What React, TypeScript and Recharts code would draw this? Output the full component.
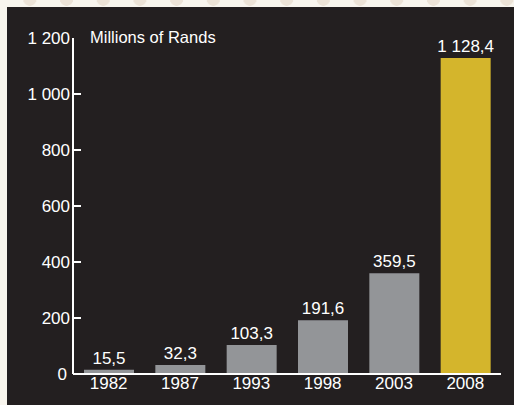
import { BarChart, Bar, XAxis, YAxis, Cell, LabelList } from "recharts";

const years = ["1982", "1987", "1993", "1998", "2003", "2008"];
const amounts = [15.5, 32.3, 103.3, 191.6, 359.5, 1128.4];
const yTicks = [0, 200, 400, 600, 800, 1000, 1200];

const data = years.map((year, i) => ({ year, amount: amounts[i] }));

const FONT = "'Liberation Sans', Arial, sans-serif";
const INK = "#231f20";
const GREY = "#939598";
const GOLD = "#d4b52c";

// "1 128,4" style: (non-breaking) space for thousands, comma for decimals
const fmt = (v: number, decimals: number) => {
  const [int, dec] = v.toFixed(decimals).split(".");
  const grouped = int.replace(/\B(?=(\d{3})+(?!\d))/g, "\u00a0");
  return dec ? `${grouped},${dec}` : grouped;
};

const YTick = ({ x, y, payload }: any) => {
  const v = payload.value;
  const showLine = v !== 0 && v !== 1200;
  return (
    <g>
      {showLine && <line x1={x + 3} x2={x + 11} y1={y} y2={y} stroke="#fff" strokeWidth={2} />}
      <text
        x={v === 0 ? x - 3 : x}
        y={y}
        dy="0.36em"
        textAnchor="end"
        fill="#fff"
        fontSize={17}
        fontFamily={FONT}
      >
        {fmt(v, 0)}
      </text>
    </g>
  );
};

export default function App() {
  return (
    <div
      style={{
        position: "absolute",
        left: 0,
        top: 0,
        width: 514,
        height: 405,
        background: "#f8f5ee",
        overflow: "hidden",
      }}
    >
      {/* scalloped strip along the top */}
      <div
        style={{
          position: "absolute",
          left: 0,
          top: 0,
          width: 514,
          height: 7,
          backgroundImage: "radial-gradient(circle at 50% 0px, #ece3d7 6.5px, transparent 7px)",
          backgroundSize: "36.7px 14px",
          backgroundPosition: "11.5px -1px",
        }}
      />
      <div
        style={{
          position: "absolute",
          left: 7,
          top: 7,
          right: 0,
          bottom: 0,
          background: INK,
        }}
      />
      <div style={{ position: "absolute", left: 0, top: 0 }}>
        <BarChart
          width={514}
          height={405}
          data={data}
          margin={{ top: 38, right: 13, bottom: 0, left: 13 }}
          barSize={50}
        >
          <YAxis
            domain={[0, 1200]}
            ticks={yTicks}
            interval={0}
            width={60}
            axisLine={{ stroke: "#fff", strokeWidth: 2 }}
            tickLine={false}
            tickSize={0}
            tickMargin={3}
            tick={<YTick />}
          />
          <XAxis
            dataKey="year"
            height={31}
            axisLine={{ stroke: "#fff", strokeWidth: 2 }}
            tickLine={false}
            tickSize={0}
            tickMargin={3}
            tick={{ fill: "#fff", fontSize: 17, fontFamily: FONT }}
          />
          <Bar dataKey="amount" isAnimationActive={false}>
            {data.map((d, i) => (
              <Cell key={d.year} fill={i === data.length - 1 ? GOLD : GREY} />
            ))}
            <LabelList
              dataKey="amount"
              position="top"
              offset={6}
              formatter={(v: any) => fmt(Number(v), 1)}
              style={{ fill: "#fff", fontSize: 17, fontFamily: FONT }}
            />
          </Bar>
        </BarChart>
      </div>
      <div
        style={{
          position: "absolute",
          left: 90,
          top: 28,
          color: "#fff",
          fontSize: 16.5,
          fontFamily: FONT,
          lineHeight: "19px",
          whiteSpace: "nowrap",
        }}
      >
        Millions of Rands
      </div>
    </div>
  );
}
